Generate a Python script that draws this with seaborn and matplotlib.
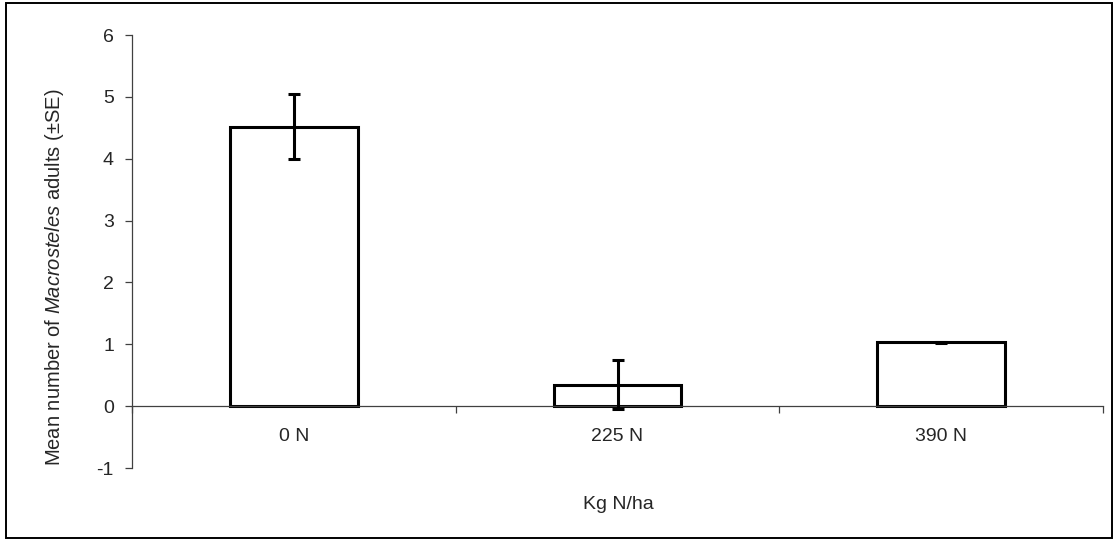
import matplotlib
matplotlib.use("Agg")
import matplotlib.pyplot as plt
import seaborn as sns
import pandas as pd
from matplotlib.patches import Rectangle
from matplotlib.ticker import FixedLocator

categories = ["0 N", "225 N", "390 N"]
means = [4.52, 0.35, 1.03]
se = [0.52, 0.40, 0.01]
yticks = [-1, 0, 1, 2, 3, 4, 5, 6]

sns.set_theme(style="white")
plt.rcParams['font.family'] = ['Liberation Sans', 'DejaVu Sans']
plt.rcParams['mathtext.fontset'] = 'custom'
plt.rcParams['mathtext.it'] = 'Liberation Sans:italic'
plt.rcParams['mathtext.rm'] = 'Liberation Sans'

FS = 14

df = pd.DataFrame({"cat": categories, "mean": means, "se": se})

fig = plt.figure(figsize=(11.18, 5.41), dpi=100)
ax = fig.add_axes([0.1181, 0.1349, 0.8685, 0.8004])

sns.barplot(data=df, x="cat", y="mean", ax=ax, color="white", edgecolor="black",
            linewidth=2.2, width=0.395, errorbar=None, saturation=1)
ax.errorbar(x=range(len(categories)), y=df["mean"], yerr=df["se"], fmt="none",
            ecolor="black", elinewidth=2.2, capsize=4.5, capthick=2.2, zorder=5)

ax.set_xlim(-0.5, 2.5)
ax.set_ylim(-1, 6)
ax.set_yticks(yticks)
ax.set_yticklabels([str(t) for t in yticks], fontsize=FS)

for s in ["top", "right"]:
    ax.spines[s].set_visible(False)
ax.spines["bottom"].set_position(("data", 0))
for s in ["left", "bottom"]:
    ax.spines[s].set_color("#404040")
    ax.spines[s].set_linewidth(0.9)

ax.tick_params(axis="y", which="major", direction="out", length=5, width=0.9,
               color="#404040", left=True, pad=8)
ax.tick_params(axis="x", which="major", length=0, pad=15.5, labelsize=FS)
ax.xaxis.set_minor_locator(FixedLocator([-0.5, 0.5, 1.5, 2.5]))
ax.tick_params(axis="x", which="minor", direction="out", length=5, width=0.9,
               color="#404040", bottom=True)

ax.set_xlabel("")
ax.set_ylabel(r"Mean number of $\it{Macrosteles}$ adults (±SE)", fontsize=14.5)
ax.yaxis.set_label_coords((66 - 132) / 971, 0.44)
fig.text(618 / 1118, 1 - 509 / 541, "Kg N/ha", ha="center", va="baseline", fontsize=FS)

fig.patches.append(Rectangle((0.005, 0.006), 0.99, 0.988, transform=fig.transFigure,
                             fill=False, edgecolor="black", linewidth=1.4))

fig.savefig("out.png", dpi=100)
